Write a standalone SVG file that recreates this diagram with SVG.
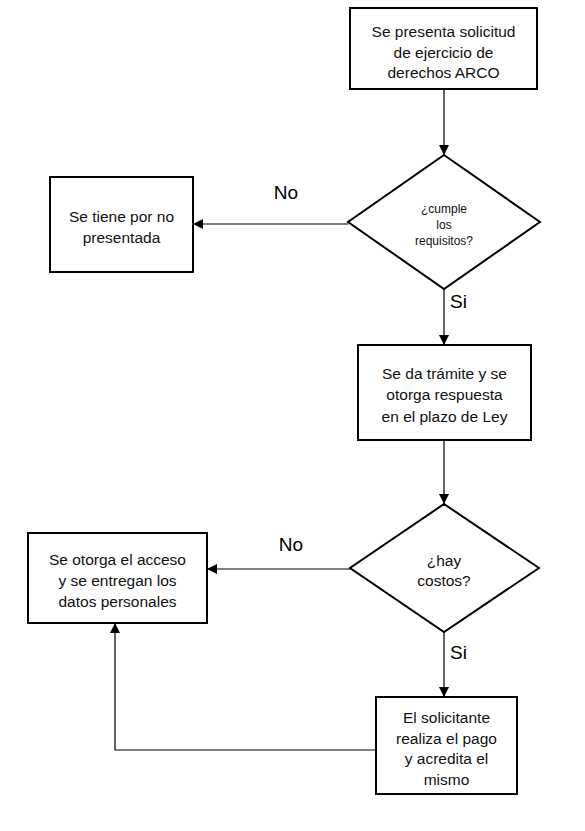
<svg xmlns="http://www.w3.org/2000/svg" width="585" height="831" viewBox="0 0 585 831">
<defs>
<marker id="arr" markerUnits="userSpaceOnUse" markerWidth="12" markerHeight="12" viewBox="0 0 12 12" refX="11" refY="6" orient="auto">
<path d="M1,1 L11,6 L1,11 Z" fill="#000"/>
</marker>
</defs>
<style>
.box{fill:#fff;stroke:#000;stroke-width:2}
.t{font-family:"Liberation Sans",Arial,sans-serif;font-size:15.5px;fill:#111;text-anchor:middle}
.s{font-family:"Liberation Sans",Arial,sans-serif;font-size:12px;fill:#111;text-anchor:middle}
.l{font-family:"Liberation Sans",Arial,sans-serif;font-size:19px;fill:#000}
.c{fill:none;stroke:#000;stroke-width:1.2}
</style>
<rect width="585" height="831" fill="#fff"/>
<g id="connectors">
<line class="c" x1="444" y1="89" x2="444" y2="155" marker-end="url(#arr)"/>
<line class="c" x1="348" y1="224" x2="193" y2="224" marker-end="url(#arr)"/>
<line class="c" x1="444" y1="289" x2="444" y2="345" marker-end="url(#arr)"/>
<line class="c" x1="444" y1="440" x2="444" y2="504" marker-end="url(#arr)"/>
<line class="c" x1="350" y1="569" x2="207" y2="569" marker-end="url(#arr)"/>
<line class="c" x1="444" y1="632" x2="444" y2="697" marker-end="url(#arr)"/>
<polyline class="c" points="376,750 115,750 115,623" marker-end="url(#arr)" stroke="#333"/>
<text class="l" x="286" y="199" text-anchor="middle">No</text>
<text class="l" x="450" y="308">Si</text>
<text class="l" x="291" y="551" text-anchor="middle">No</text>
<text class="l" x="450" y="659">Si</text>
</g>
<g id="n1">
<rect class="box" x="350" y="8" width="187" height="81"/>
<text class="t" x="443.5" y="37">Se presenta solicitud</text>
<text class="t" x="443.5" y="57.5">de ejercicio de</text>
<text class="t" x="443.5" y="78">derechos ARCO</text>
</g>
<g id="d1">
<polygon class="box" points="444,155 540,222 444,289 348,222"/>
<text class="s" x="444" y="213">¿cumple</text>
<text class="s" x="444" y="229">los</text>
<text class="s" x="444" y="245">requisitos?</text>
</g>
<g id="n2">
<rect class="box" x="50" y="177" width="143" height="95"/>
<text class="t" x="121.5" y="222">Se tiene por no</text>
<text class="t" x="121.5" y="243">presentada</text>
</g>
<g id="n3">
<rect class="box" x="358" y="345" width="173" height="95"/>
<text class="t" x="444.5" y="379">Se da trámite y se</text>
<text class="t" x="444.5" y="400">otorga respuesta</text>
<text class="t" x="444.5" y="421.5">en el plazo de Ley</text>
</g>
<g id="d2">
<polygon class="box" points="444,504 539,568 444,632 350,568"/>
<text class="t" x="444" y="566">¿hay</text>
<text class="t" x="444" y="586">costos?</text>
</g>
<g id="n4">
<rect class="box" x="28" y="533" width="179" height="90"/>
<text class="t" x="117.5" y="565">Se otorga el acceso</text>
<text class="t" x="117.5" y="586">y se entregan los</text>
<text class="t" x="117.5" y="607">datos personales</text>
</g>
<g id="n5">
<rect class="box" x="376" y="697" width="141" height="97"/>
<text class="t" x="446.5" y="723">El solicitante</text>
<text class="t" x="446.5" y="744">realiza el pago</text>
<text class="t" x="446.5" y="764">y acredita el</text>
<text class="t" x="446.5" y="785">mismo</text>
</g>
</svg>
